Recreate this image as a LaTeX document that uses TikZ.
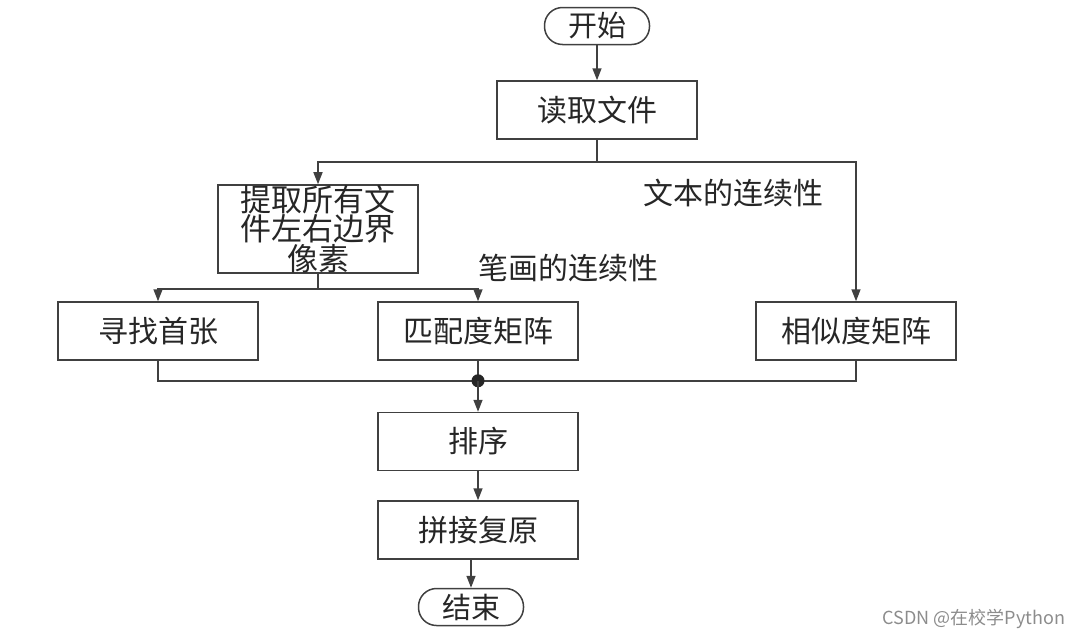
\documentclass[tikz,border=0pt]{standalone}
\usepackage{fontspec}
\setmainfont{Noto Sans CJK SC}
\usetikzlibrary{positioning, calc, arrows.meta}

\begin{document}
\begin{tikzpicture}
    [x=1pt, y=-1pt,
    termnode/.style={rectangle, rounded corners=18pt, draw=black!75, line width=1.5pt, minimum width=105pt, minimum height=37pt, inner sep=0pt, font=\fontsize{29}{29}\selectfont, text=black!85},
    squarednode/.style={rectangle, draw=black!75, line width=1.5pt, minimum width=200pt, minimum height=58pt, inner sep=0pt, font=\fontsize{30}{25}\selectfont, text=black!85, align=center},
    link/.style={draw=black!75, line width=1.5pt},
    arrow/.style={link, -{Triangle[length=12pt, width=9pt]}},
    note/.style={font=\fontsize{30}{30}\selectfont, text=black!85}]

    \useasboundingbox (0,0) rectangle (1083,638);

    %Nodes
    \node[termnode] (start) at (597,26) {开始};
    \node[squarednode] (read) [below=35pt of start] {读取文件};
    \node[squarednode, minimum height=82pt, font=\fontsize{31}{25}\selectfont] (extract) at (318,229) {提取所有文\\件左右边界\\像素};
    \node[squarednode] (first) at (158,331) {寻找首张};
    \node[squarednode] (match) at (478,331) {匹配度矩阵};
    \node[squarednode] (simil) at (856,331) {相似度矩阵};
    \node[squarednode] (sort) [below=51pt of match] {排序};
    \node[squarednode] (stitch) [below=29pt of sort] {拼接复原};
    \node[termnode] (end) at (471,607) {结束};

    %Labels
    \node[note] (textcont) at (733,193) {文本的连续性};
    \node[note] (strokecont) at (568,268) {笔画的连续性};
    \node[font=\fontsize{18}{18}\selectfont, text=black!45] (mark) at (974,619) {CSDN @在校学Python};

    %Edges
    \draw[arrow] (start) -- (read);
    \draw[link] (read.south) -- ++(0,22) coordinate (fork1);
    \draw[arrow] (fork1) -| (extract.north);
    \draw[arrow] (fork1) -| (simil.north);
    \draw[link] (extract.south) -- ++(0,15) coordinate (fork2);
    \draw[arrow] (fork2) -| (first.north);
    \draw[arrow] (fork2) -| (match.north);
    \draw[link] (match.south) -- ++(0,20) coordinate (join);
    \draw[link] (first.south) |- (join) -| (simil.south);
    \fill[black!85] (join) circle (6.5pt);
    \draw[arrow] (join) -- (sort);
    \draw[arrow] (sort) -- (stitch);
    \draw[arrow] (end.north |- stitch.south) -- (end);
\end{tikzpicture}
\end{document}
